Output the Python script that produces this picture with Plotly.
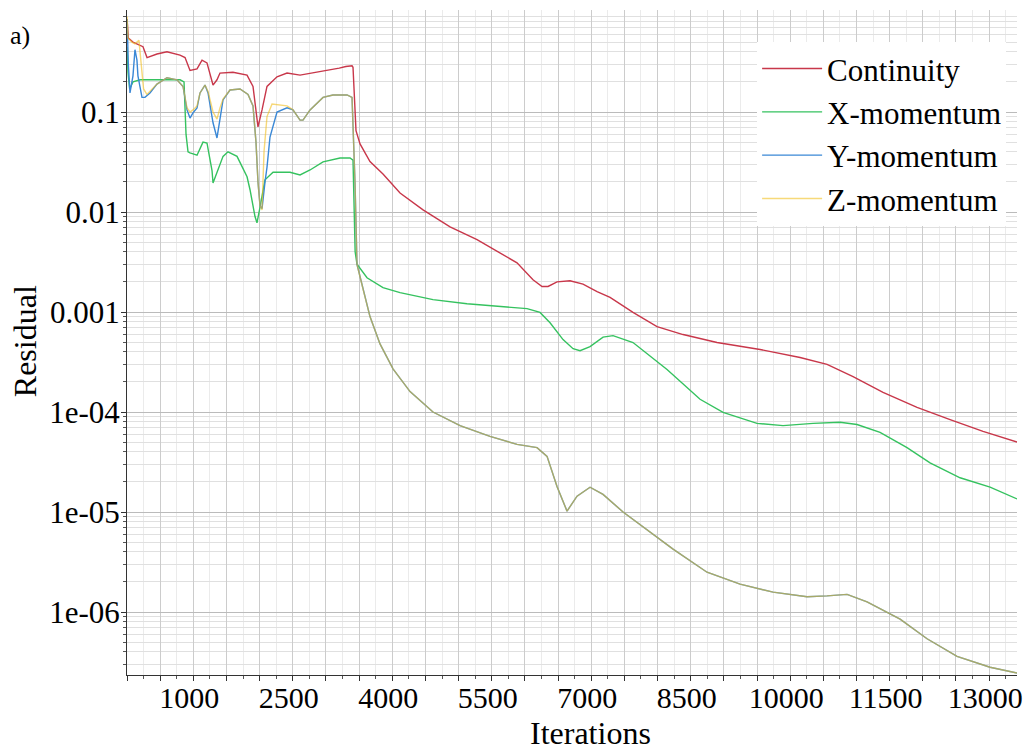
import plotly.graph_objects as go

# ---- data (iteration, residual) ----
continuity = [
    (1, 0.85), (20, 0.55), (90, 0.5), (241, 0.45), (302, 0.35), (452, 0.38), (603, 0.40),
    (799, 0.37), (875, 0.35), (950, 0.26), (1056, 0.27), (1131, 0.33), (1206, 0.31),
    (1297, 0.186), (1357, 0.21), (1402, 0.245), (1598, 0.25), (1810, 0.234), (1900, 0.18),
    (1975, 0.071), (2036, 0.105), (2111, 0.18), (2262, 0.225), (2413, 0.245), (2609, 0.234),
    (2865, 0.25), (3000, 0.26), (3106, 0.27), (3200, 0.275), (3300, 0.285), (3393, 0.29),
    (3408, 0.28), (3453, 0.065), (3514, 0.048), (3664, 0.032), (3860, 0.024), (4117, 0.0155),
    (4464, 0.0105), (4871, 0.0071), (5278, 0.0053), (5625, 0.0039), (5881, 0.0031),
    (6122, 0.0021), (6258, 0.0018), (6349, 0.0018), (6484, 0.0020), (6680, 0.00205),
    (6876, 0.0019), (7088, 0.0016), (7284, 0.0014), (7630, 0.00099), (7992, 0.000715),
    (8385, 0.000595), (8897, 0.000495), (9546, 0.000422), (10149, 0.000351),
    (10556, 0.000299), (10948, 0.000226), (11400, 0.000157), (11913, 0.000111),
    (12411, 8.4e-5), (12908, 6.4e-5), (13421, 5.0e-5),
]

x_momentum = [
    (1, 0.45), (15, 0.25), (40, 0.17), (90, 0.2), (200, 0.21), (400, 0.21), (600, 0.21),
    (800, 0.21), (860, 0.2), (890, 0.06), (920, 0.04), (950, 0.039), (1056, 0.037),
    (1146, 0.05), (1206, 0.049), (1282, 0.026), (1297, 0.0195), (1357, 0.025), (1448, 0.036),
    (1523, 0.04), (1659, 0.036), (1810, 0.0225), (1855, 0.0167), (1930, 0.009), (1960, 0.0078),
    (2006, 0.0112), (2081, 0.021), (2202, 0.025), (2458, 0.025), (2609, 0.0235), (2760, 0.0263),
    (2956, 0.0317), (3212, 0.0347), (3363, 0.0347), (3408, 0.033), (3440, 0.004), (3468, 0.003),
    (3619, 0.0022), (3860, 0.00175), (4117, 0.00156), (4614, 0.00133), (5127, 0.00121),
    (5625, 0.00113), (6032, 0.00108), (6228, 0.00099), (6379, 0.00078), (6575, 0.00053),
    (6726, 0.00043), (6831, 0.00041), (6982, 0.00045), (7178, 0.00056), (7329, 0.00058),
    (7630, 0.000495), (8143, 0.000266), (8641, 0.000134), (8988, 9.9e-5), (9500, 7.7e-5),
    (9892, 7.3e-5), (10345, 7.7e-5), (10752, 7.9e-5), (11008, 7.5e-5), (11355, 6.25e-5),
    (11762, 4.4e-5), (12109, 3.1e-5), (12562, 2.2e-5), (13014, 1.77e-5), (13421, 1.35e-5),
]

y_momentum = [
    (1, 0.85), (20, 0.3), (45, 0.155), (90, 0.23), (120, 0.42), (150, 0.33), (165, 0.23),
    (226, 0.14), (271, 0.14), (346, 0.155), (452, 0.19), (603, 0.22), (754, 0.21), (845, 0.18),
    (905, 0.105), (950, 0.087), (995, 0.098), (1056, 0.11), (1101, 0.155), (1176, 0.186),
    (1222, 0.155), (1297, 0.078), (1357, 0.055), (1402, 0.09), (1448, 0.132), (1553, 0.166),
    (1704, 0.17), (1825, 0.15), (1900, 0.115), (1945, 0.05), (1975, 0.02), (2006, 0.0115),
    (2036, 0.0108), (2081, 0.02), (2111, 0.028), (2156, 0.056), (2262, 0.1), (2413, 0.11),
    (2503, 0.105), (2609, 0.083), (2654, 0.083), (2760, 0.105), (2956, 0.14), (3106, 0.148),
    (3318, 0.148), (3393, 0.14), (3438, 0.02), (3468, 0.003), (3559, 0.0017), (3619, 0.0012),
    (3664, 0.0009), (3815, 0.00048), (4011, 0.00027), (4268, 0.00016), (4614, 0.0001),
    (5022, 7.3e-5), (5474, 5.7e-5), (5881, 4.75e-5), (6183, 4.4e-5), (6334, 3.6e-5),
    (6484, 1.8e-5), (6635, 1.02e-5), (6786, 1.44e-5), (6982, 1.77e-5), (7178, 1.5e-5),
    (7480, 1.0e-5), (7736, 7.5e-6), (8234, 4.25e-6), (8746, 2.5e-6), (9244, 1.9e-6),
    (9742, 1.58e-6), (10254, 1.42e-6), (10556, 1.45e-6), (10858, 1.5e-6), (11159, 1.26e-6),
    (11657, 8.5e-7), (12064, 5.4e-7), (12516, 3.6e-7), (13014, 2.8e-7), (13421, 2.45e-7),
]

z_momentum = [
    (1, 0.9), (15, 0.55), (75, 0.5), (120, 0.48), (180, 0.52), (210, 0.3), (250, 0.17),
    (300, 0.15), (346, 0.16), (452, 0.19), (603, 0.22), (754, 0.21), (845, 0.18), (905, 0.11),
    (950, 0.1), (995, 0.105), (1056, 0.115), (1101, 0.155), (1176, 0.186), (1222, 0.16),
    (1297, 0.1), (1357, 0.085), (1402, 0.11), (1448, 0.135), (1553, 0.166), (1704, 0.17),
    (1825, 0.15), (1900, 0.115), (1945, 0.05), (1975, 0.02), (2006, 0.0115), (2036, 0.0105),
    (2066, 0.04), (2111, 0.09), (2187, 0.12), (2413, 0.115), (2503, 0.105), (2609, 0.083),
    (2654, 0.083), (2760, 0.105), (2956, 0.14), (3106, 0.148), (3318, 0.148), (3393, 0.14),
    (3438, 0.02), (3468, 0.003), (3559, 0.0017), (3619, 0.0012), (3664, 0.0009),
    (3815, 0.00048), (4011, 0.00027), (4268, 0.00016), (4614, 0.0001), (5022, 7.3e-5),
    (5474, 5.7e-5), (5881, 4.75e-5), (6183, 4.4e-5), (6334, 3.6e-5), (6484, 1.8e-5),
    (6635, 1.02e-5), (6786, 1.44e-5), (6982, 1.77e-5), (7178, 1.5e-5), (7480, 1.0e-5),
    (7736, 7.5e-6), (8234, 4.25e-6), (8746, 2.5e-6), (9244, 1.9e-6), (9742, 1.58e-6),
    (10254, 1.42e-6), (10556, 1.45e-6), (10858, 1.5e-6), (11159, 1.26e-6), (11657, 8.5e-7),
    (12064, 5.4e-7), (12516, 3.6e-7), (13014, 2.8e-7), (13421, 2.45e-7),
]

series_names = ["Continuity", "X-momentum", "Y-momentum", "Z-momentum"]
series_colors = ["#c8374a", "#35c25f", "#3a88d6", "#f2bf1f"]
x_tick_labels = [1000, 2500, 4000, 5500, 7000, 8500, 10000, 11500, 13000]
y_tick_values = [1e-6, 1e-5, 1e-4, 1e-3, 1e-2, 1e-1]
y_tick_labels = ["1e-06", "1e-05", "1e-04", "0.001", "0.01", "0.1"]

FONT = "Liberation Serif, Times New Roman, serif"

fig = go.Figure()
all_series = [continuity, x_momentum, y_momentum, z_momentum]
opac = [1.0, 1.0, 1.0, 0.6]
for name, color, data, op in zip(series_names, series_colors, all_series, opac):
    fig.add_trace(go.Scatter(
        x=[p[0] for p in data], y=[p[1] for p in data], mode="lines", name=name,
        line=dict(color=color, width=1.4), opacity=op,
    ))

major_x = list(range(0, 13001, 500))
major_x_text = [str(v) if v in x_tick_labels else "" for v in major_x]
minor_y = [k * 10 ** e for e in range(-7, 1) for k in range(2, 10)]

fig.update_layout(
    width=1026, height=752,
    margin=dict(l=127, r=9, t=10, b=77, autoexpand=False),
    paper_bgcolor="white", plot_bgcolor="white",
    font=dict(family=FONT, size=31, color="black"),
    showlegend=True,
    legend=dict(x=0.708, y=0.952, xanchor="left", yanchor="top", bgcolor="white",
                font=dict(family=FONT, size=31, color="black"), tracegroupgap=0,
                itemwidth=60),
    xaxis=dict(
        type="linear", range=[0, 13420], automargin=False,
        tickmode="array", tickvals=major_x, ticktext=major_x_text,
        showgrid=True, gridcolor="#cccccc", gridwidth=1,
        showline=True, linecolor="#333333", linewidth=1,
        ticks="outside", ticklen=5, tickcolor="#333333",
        tickfont=dict(family=FONT, size=30),
        ticklabeloverflow="allow", ticklabelstandoff=-9, ticklabelshift=-4,
        minor=dict(dtick=250, tick0=0, showgrid=True, gridcolor="#ebebeb",
                   ticks="outside", ticklen=3, tickcolor="#555555"),
        zeroline=False,
    ),
    yaxis=dict(
        type="log", range=[-6.63, 0.02], automargin=False,
        tickmode="array", tickvals=y_tick_values, ticktext=y_tick_labels,
        showgrid=True, gridcolor="#bbbbbb", gridwidth=1,
        showline=True, linecolor="#333333", linewidth=1,
        ticks="outside", ticklen=5, tickcolor="#333333",
        tickfont=dict(family=FONT, size=31),
        ticklabelstandoff=-5,
        minor=dict(tickmode="array", tickvals=minor_y, showgrid=True, gridcolor="#e0e0e0",
                   ticks="outside", ticklen=3, tickcolor="#555555"),
        zeroline=False,
    ),
    annotations=[
        dict(text="a)", xref="paper", yref="paper", x=-0.1203, y=0.962, showarrow=False,
             xanchor="center", yanchor="middle", font=dict(family=FONT, size=26)),
        dict(text="Iterations", xref="paper", yref="paper", x=0.521, y=-0.0872,
             xanchor="center", yanchor="middle",
             showarrow=False, font=dict(family=FONT, size=32)),
        dict(text="Residual", xref="paper", yref="paper", x=-0.1146, y=0.502,
             xanchor="center", yanchor="middle",
             textangle=-90, showarrow=False, font=dict(family=FONT, size=32)),
    ],
)

fig.write_html("out.html")
